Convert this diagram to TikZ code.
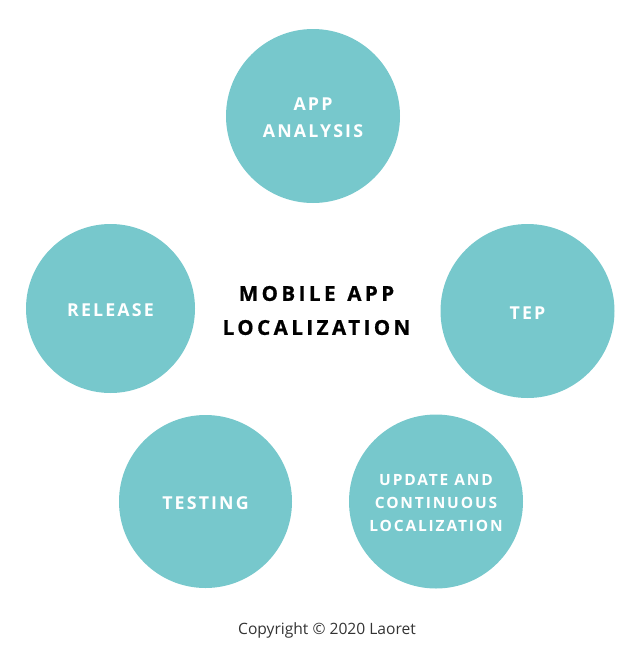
\documentclass[tikz,border=0pt]{standalone}
\usepackage{fontspec}
\setmainfont{Open Sans}
\newfontfamily\circfont[LetterSpace=12]{Open Sans Bold}
\newfontfamily\titlefont[LetterSpace=17,FakeBold=0.8]{Open Sans Bold}
\definecolor{teal1}{HTML}{77C8CC}
\definecolor{copygray}{HTML}{333333}
\begin{document}
\begin{tikzpicture}[x=1pt,y=-1pt,
  bubble/.style={circle,fill=teal1,draw=none,minimum size=#1,inner sep=0pt},
  bubbletext/.style={text=white,align=center,font=\circfont\fontsize{17.8}{27}\selectfont},
  smalltext/.style={bubbletext,font=\circfont\fontsize{15.5}{23}\selectfont},
  title/.style={align=center,text=black,font=\titlefont\fontsize{20.5}{34}\selectfont},
  copy/.style={text=copygray,font=\fontsize{15.6}{18}\selectfont}]
\useasboundingbox (0,0) rectangle (630,662);
\node[bubble=174pt] (analysis) at (313,116) {};
\node[bubble=169pt] (release) at (110.5,308.5) {};
\node[bubble=174pt] (tep) at (527.5,311) {};
\node[bubble=173pt] (testing) at (205.5,501.5) {};
\node[bubble=174pt] (update) at (436,501.5) {};
\node[bubbletext] (analysistext) at ([yshift=-2pt]analysis.center) {APP\\ANALYSIS};
\node[bubbletext] (releasetext) at ([yshift=-2pt]release.center) {RELEASE};
\node[bubbletext] (teptext) at ([yshift=-2pt]tep.center) {TEP};
\node[bubbletext] (testingtext) at ([yshift=-2pt]testing.center) {TESTING};
\node[smalltext] (updatetext) at ([yshift=-2pt]update.center) {UPDATE AND\\CONTINUOUS\\LOCALIZATION};
\node[title] (center) at (316.5,310.5) {MOBILE\hspace{3pt} APP\\LOCALIZATION};
\node[copy] (copyright) at (327,630) {Copyright © 2020 Laoret};
\end{tikzpicture}
\end{document}
